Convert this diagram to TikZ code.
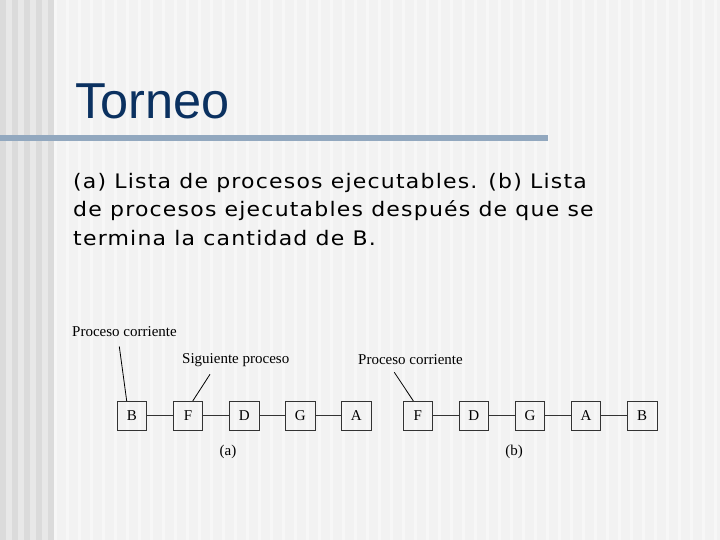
\documentclass[tikz,border=0pt]{standalone}
\usepackage{fontspec}
\setmainfont{Liberation Serif}
\newfontfamily\titlefont{Liberation Sans}
\newfontfamily\bodyfont[FakeStretch=1.1, LetterSpace=6]{DejaVu Sans}
\usetikzlibrary{positioning}
\definecolor{titleblue}{HTML}{0B3160}
\definecolor{rulecol}{HTML}{92A8BF}

\begin{document}
\begin{tikzpicture}[x=1pt, y=-1pt,
        proc/.style={rectangle, draw=black!80, thick, minimum width=29.5pt, minimum height=29pt, inner sep=0pt, font=\fontsize{15}{15}\selectfont},
        tag/.style={font=\fontsize{15}{15}\selectfont, inner sep=1pt},
        link/.style={draw=black!80, thick},
        pointer/.style={draw=black, thick}
      ]
        % background
        \fill[black!5] (0,0) rectangle (720,540);
        \foreach \i in {0,2,...,8}
          \fill[black!14] (\i*6,0) rectangle (\i*6+6,540);
        \foreach \i in {1,3,...,7}
          \fill[black!9] (\i*6,0) rectangle (\i*6+6,540);
        \foreach \i in {9,11,...,119}
          \fill[black!3] (\i*6,0) rectangle (\i*6+3,540);
        \useasboundingbox (0,0) rectangle (720,540);

        % title and rule
        \node[anchor=base west, inner sep=0pt, text=titleblue, font=\titlefont\fontsize{50.5}{50.5}\selectfont] (title) at (75,118.5) {Torneo};
        \fill[rulecol] (0,135) rectangle (548,141);

        \node[anchor=north west, inner sep=0pt, align=left, font=\bodyfont\fontsize{20}{28.5}\selectfont] (caption) at (73,173)
          {(a) Lista de procesos ejecutables. (b) Lista\\de procesos ejecutables despu\'es de que se\\termina la cantidad de B.};

        % (a)
        \node[proc] (a1) at (132,415.8) {B};
        \node[proc] (a2) [right=25.8pt of a1] {F};
        \node[proc] (a3) [right=25.8pt of a2] {D};
        \node[proc] (a4) [right=25.8pt of a3] {G};
        \node[proc] (a5) [right=25.8pt of a4] {A};
        \foreach \p/\q in {a1/a2, a2/a3, a3/a4, a4/a5}
          \draw[link] (\p.east) -- (\q.west);
        \node[tag] (capa) at (228,452) {(a)};

        % (b)
        \node[proc] (b1) at (417.8,415.8) {F};
        \node[proc] (b2) [right=25.8pt of b1] {D};
        \node[proc] (b3) [right=25.8pt of b2] {G};
        \node[proc] (b4) [right=25.8pt of b3] {A};
        \node[proc] (b5) [right=25.8pt of b4] {B};
        \foreach \p/\q in {b1/b2, b2/b3, b3/b4, b4/b5}
          \draw[link] (\p.east) -- (\q.west);
        \node[tag] (capb) at (514,452) {(b)};

        % labels
        \node[tag, anchor=west] (cur) at (71,332) {Proceso corriente};
        \node[tag, anchor=west] (next) at (181,360) {Siguiente proceso};
        \node[tag, anchor=west] (curb) at (357,360) {Proceso corriente};
        \coordinate (cur1) at (119.3,346.5);
        \coordinate (next1) at (210,374.3);
        \coordinate (curb1) at (394.3,372.3);
        \draw[pointer] (cur1) -- ([xshift=-5.3pt]a1.north);
        \draw[pointer] (next1) -- ([xshift=4.7pt]a2.north);
        \draw[pointer] (curb1) -- ([xshift=-4.5pt]b1.north);
      \end{tikzpicture}
\end{document}
